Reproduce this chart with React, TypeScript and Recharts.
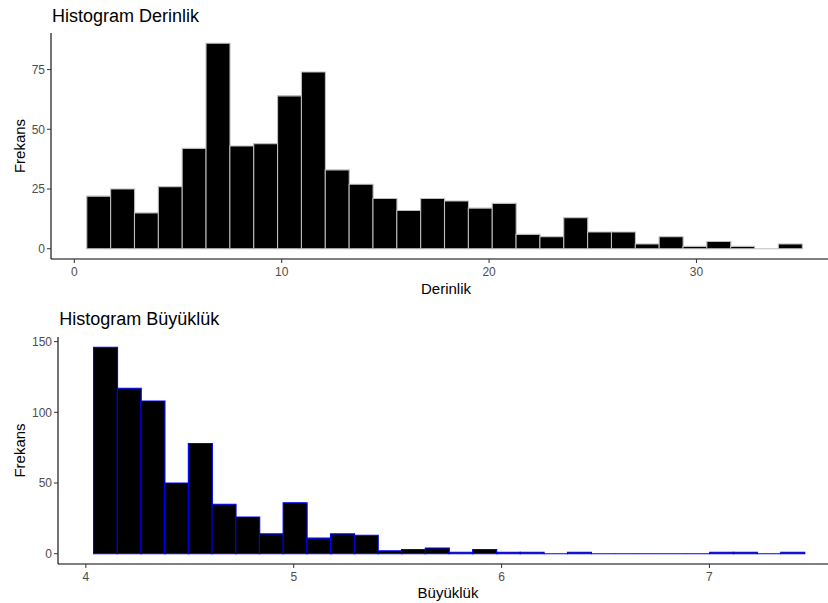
import { BarChart, Bar, XAxis, YAxis } from 'recharts';

// Derinlik histogram (30 bins, midpoints)
const derinlikBins = [
  1.175, 2.325, 3.475, 4.625, 5.775, 6.925, 8.075, 9.225, 10.375, 11.525,
  12.675, 13.825, 14.975, 16.125, 17.275, 18.425, 19.575, 20.725, 21.875, 23.025,
  24.175, 25.325, 26.475, 27.625, 28.775, 29.925, 31.075, 32.225, 33.375, 34.525,
];
const derinlikCounts = [
  22, 25, 15, 26, 42, 86, 43, 44, 64, 74,
  33, 27, 21, 16, 21, 20, 17, 19, 6, 5,
  13, 7, 7, 2, 5, 1, 3, 1, 0, 2,
];
const derinlikXTicks = [0, 10, 20, 30];
const derinlikYTicks = [0, 25, 50, 75];

// Büyüklük histogram (30 bins, midpoints)
const buyuklukBins = [
  4.094, 4.208, 4.322, 4.436, 4.55, 4.664, 4.778, 4.892, 5.006, 5.12,
  5.234, 5.348, 5.462, 5.576, 5.69, 5.804, 5.918, 6.032, 6.146, 6.26,
  6.374, 6.488, 6.602, 6.716, 6.83, 6.944, 7.058, 7.172, 7.286, 7.4,
];
const buyuklukCounts = [
  146, 117, 108, 50, 78, 35, 26, 14, 36, 11,
  14, 13, 2, 3, 4, 1, 3, 1, 1, 0,
  1, 0, 0, 0, 0, 0, 1, 1, 0, 1,
];
const buyuklukXTicks = [4, 5, 6, 7];
const buyuklukYTicks = [0, 50, 100, 150];

const derinlikData = derinlikBins.map((mid, i) => ({ mid, count: derinlikCounts[i] }));
const buyuklukData = buyuklukBins.map((mid, i) => ({ mid, count: buyuklukCounts[i] }));

const FONT = '"Liberation Sans", Arial, Helvetica, sans-serif';
const tickStyle = { fill: '#4d4d4d', fontSize: 12, fontFamily: FONT };

// ggplot-style rect: outline drawn even when the bin is empty
function HistBar(props: any) {
  const { x, y, width, height, fill, stroke } = props;
  if (x == null || y == null || width == null) return null;
  const h = height || 0;
  const d = `M${x},${y}h${width}v${h}h${-width}Z`;
  return <path d={d} fill={fill} stroke={stroke} strokeWidth={1.1} />;
}

export default function App() {
  return (
    <div
      style={{
        position: 'absolute',
        left: 0,
        top: 0,
        width: 828,
        height: 603,
        overflow: 'hidden',
        background: '#fff',
        fontFamily: FONT,
      }}
    >
      <div style={{ position: 'absolute', left: 0, top: 0 }}>
        <BarChart
          width={844}
          height={300}
          data={derinlikData}
          margin={{ top: 33, right: 6, bottom: 0, left: 0 }}
          barCategoryGap={0}
          barGap={0}
        >
          <XAxis
            type="number"
            dataKey="mid"
            domain={[-1.125, 36.825]}
            allowDataOverflow
            ticks={derinlikXTicks}
            height={41}
            tick={tickStyle}
            tickLine={{ stroke: '#333' }}
            tickSize={4}
            tickMargin={4}
            axisLine={{ stroke: '#000', strokeWidth: 1.1 }}
          />
          <YAxis
            type="number"
            domain={[-4.3, 90.3]}
            allowDataOverflow
            ticks={derinlikYTicks}
            width={51}
            tick={tickStyle}
            tickLine={{ stroke: '#333' }}
            tickSize={4}
            tickMargin={2}
            axisLine={{ stroke: '#000', strokeWidth: 1.1 }}
          />
          <Bar
            dataKey="count"
            fill="#000"
            stroke="#bebebe"
            shape={(p: any) => <HistBar {...p} />}
            isAnimationActive={false}
          />
        </BarChart>
      </div>

      <div style={{ position: 'absolute', left: 0, top: 300 }}>
        <BarChart
          width={846}
          height={303}
          data={buyuklukData}
          margin={{ top: 37, right: 6, bottom: 0, left: 0 }}
          barCategoryGap={0}
          barGap={0}
        >
          <XAxis
            type="number"
            dataKey="mid"
            domain={[3.866, 7.628]}
            allowDataOverflow
            ticks={buyuklukXTicks}
            height={39}
            tick={tickStyle}
            tickLine={{ stroke: '#333' }}
            tickSize={4}
            tickMargin={4}
            axisLine={{ stroke: '#000', strokeWidth: 1.1 }}
          />
          <YAxis
            type="number"
            domain={[-7.3, 153.3]}
            allowDataOverflow
            ticks={buyuklukYTicks}
            width={58}
            tick={tickStyle}
            tickLine={{ stroke: '#333' }}
            tickSize={4}
            tickMargin={2}
            axisLine={{ stroke: '#000', strokeWidth: 1.1 }}
          />
          <Bar
            dataKey="count"
            fill="#000"
            stroke="#0000ff"
            shape={(p: any) => <HistBar {...p} />}
            isAnimationActive={false}
          />
        </BarChart>
      </div>

      {/* titles and axis titles */}
      <svg
        width={828}
        height={603}
        style={{ position: 'absolute', left: 0, top: 0, pointerEvents: 'none' }}
        fontFamily={FONT}
      >
        <text x={52} y={21.7} fontSize={18} fill="#000">Histogram Derinlik</text>
        <text x={446} y={294} fontSize={15} fill="#000" textAnchor="middle">Derinlik</text>
        <text transform="translate(24.5,146) rotate(-90)" fontSize={15} fill="#000" textAnchor="middle">Frekans</text>

        <text x={59.3} y={325} fontSize={18} fill="#000">Histogram Büyüklük</text>
        <text x={448} y={597.7} fontSize={15} fill="#000" textAnchor="middle">Büyüklük</text>
        <text transform="translate(24.5,450.5) rotate(-90)" fontSize={15} fill="#000" textAnchor="middle">Frekans</text>
      </svg>
    </div>
  );
}
